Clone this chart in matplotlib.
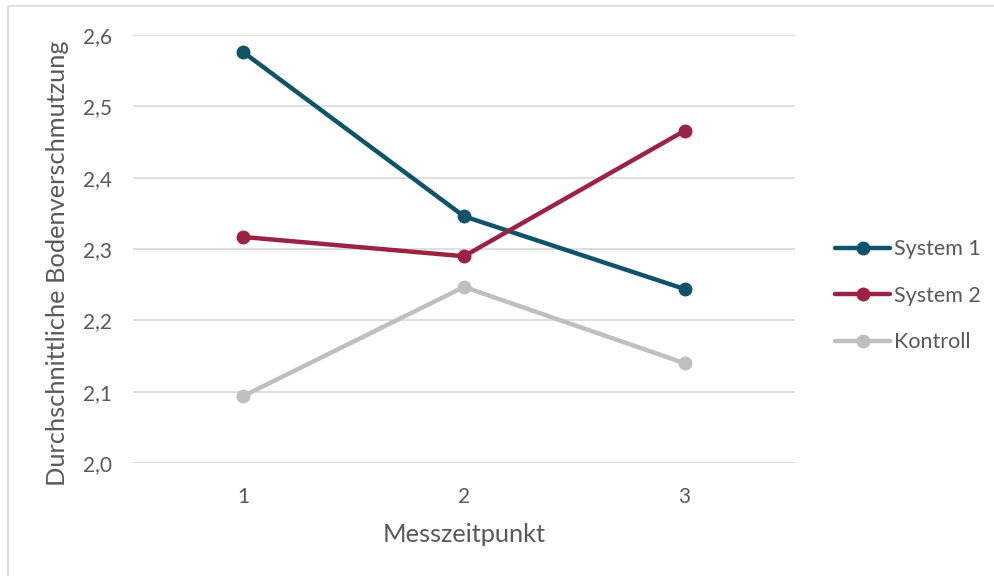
import matplotlib
matplotlib.use("Agg")
import matplotlib.pyplot as plt
from matplotlib.patches import Rectangle

# Mean soil contamination per measurement point
zeitpunkte = [1, 2, 3]
system1 = [2.576, 2.346, 2.244]
system2 = [2.317, 2.290, 2.466]
kontroll = [2.094, 2.247, 2.140]
y_ticks = [2.0, 2.1, 2.2, 2.3, 2.4, 2.5, 2.6]
serien = ["System 1", "System 2", "Kontroll"]
farben = ["#0D5468", "#9B2243", "#BFBFBF"]

plt.rcParams["font.family"] = ["Lato", "DejaVu Sans"]
text_color = "#595959"

fig = plt.figure(figsize=(9.95, 5.76), dpi=100)
ax = fig.add_axes([0.1337, 0.196, 0.6653, 0.743])

for name, werte, farbe in zip(serien, [system1, system2, kontroll], farben):
    ax.plot(zeitpunkte, werte, color=farbe, linewidth=3.2, marker="o",
            markersize=9, label=name, solid_capstyle="round", zorder=3)

ax.set_xlim(0.5, 3.5)
ax.set_ylim(2.0, 2.6)
ax.set_yticks(y_ticks)
ax.set_yticklabels([f"{v:.1f}".replace(".", ",") for v in y_ticks])
ax.set_xticks(zeitpunkte)
ax.set_xticklabels([str(z) for z in zeitpunkte])
ax.yaxis.grid(True, color="#D9D9D9", linewidth=1.2, zorder=0)
ax.tick_params(axis="both", length=0, labelsize=15, labelcolor=text_color)
ax.tick_params(axis="y", pad=15)
ax.tick_params(axis="x", pad=17)
for s in ax.spines.values():
    s.set_visible(False)

ax.set_xlabel("Messzeitpunkt", fontsize=18.3, color=text_color, labelpad=12)
ax.set_ylabel("Durchschnittliche Bodenverschmutzung", fontsize=18.3,
              color=text_color)
ax.yaxis.set_label_coords(-0.0967, 0.467)

leg = ax.legend(loc="center left", bbox_to_anchor=(1.048, 0.391), frameon=False,
                fontsize=15.5, handlelength=2.55, handletextpad=0.15,
                labelspacing=1.23, borderaxespad=0, labelcolor=text_color)

# Thin outer frame of the chart area
fig.patches.append(Rectangle((8 / 995, -0.1), 1.2, (570 / 576) + 0.1,
                             transform=fig.transFigure, fill=False,
                             edgecolor="#D9D9D9", linewidth=1.2))

fig.savefig("out.png", dpi=100)
